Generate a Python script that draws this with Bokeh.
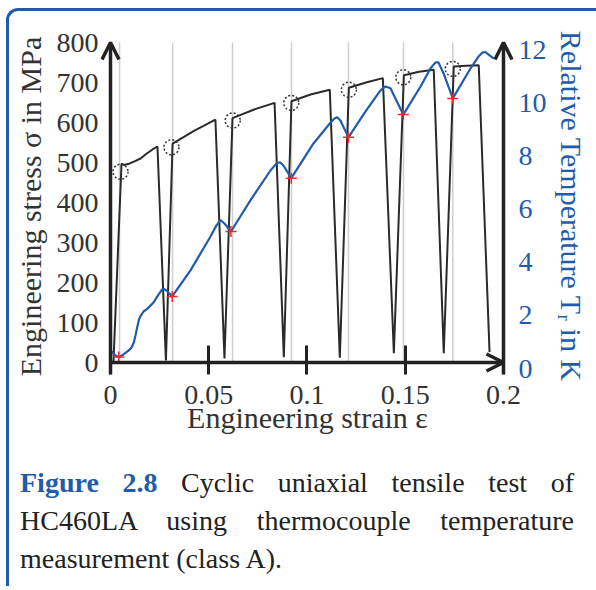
from bokeh.plotting import figure
from bokeh.models import (Range1d, LinearAxis, FixedTicker, CustomJSTickFormatter,
                          Arrow, OpenHead, Div)
from bokeh.layouts import column, row
from bokeh.embed import file_html
from bokeh.resources import INLINE

# Engineering stress curve (strain, MPa)
strain_s = [0.0015, 0.0056, 0.0068, 0.0095, 0.0122, 0.0153, 0.0183, 0.0212, 0.0239,
            0.0282, 0.0316, 0.0425, 0.0534,
            0.0580, 0.0621, 0.0728, 0.0835,
            0.0882, 0.0921, 0.1018, 0.1116,
            0.1167, 0.1213, 0.1300, 0.1386,
            0.1442, 0.1493, 0.1570, 0.1645,
            0.1696, 0.1747, 0.1810, 0.1874,
            0.1929]
stress = [0, 497, 494, 497, 503, 510, 522, 532, 540,
          5, 547, 579, 607,
          10, 611, 632, 649,
          13, 653, 670, 682,
          12, 687, 700, 711,
          23, 718, 727, 732,
          23, 740, 742, 743,
          26]

# Relative temperature curve (strain, K)
strain_t = [0.0005, 0.0025, 0.0042, 0.0066, 0.0093, 0.0107, 0.0119, 0.0127, 0.0136,
            0.0145, 0.0153, 0.0168, 0.0187, 0.0220, 0.0244, 0.0263, 0.0271, 0.0285,
            0.0314, 0.0407, 0.0509, 0.0539, 0.0560, 0.0580, 0.0613, 0.0712, 0.0814,
            0.0845, 0.0863, 0.0880, 0.0920, 0.1033, 0.1120, 0.1140, 0.1154, 0.1170,
            0.1211, 0.1298, 0.1374, 0.1399, 0.1425, 0.1455, 0.1490, 0.1578, 0.1628,
            0.1654, 0.1669, 0.1695, 0.1742, 0.1832, 0.1873, 0.1893, 0.1908, 0.1929,
            0.1951]
temp = [0.64, 0.49, 0.43, 0.53, 0.68, 0.79, 0.99, 1.25, 1.56,
        1.85, 1.98, 2.15, 2.25, 2.50, 2.79, 2.98, 3.01, 2.94,
        2.72, 3.70, 4.98, 5.40, 5.60, 5.47, 5.17, 6.34, 7.47,
        7.74, 7.78, 7.66, 7.18, 8.49, 9.28, 9.43, 9.48, 9.36,
        8.72, 9.70, 10.49, 10.64, 10.57, 10.11, 9.58, 10.64, 11.32,
        11.55, 11.55, 11.13, 10.19, 11.32, 11.77, 11.92, 11.94, 11.81,
        11.69]

# Reloading points
reload_strain = [0.0046, 0.0316, 0.0621, 0.0921, 0.1211, 0.1491, 0.1742]
circle_strain = [0.0051, 0.0310, 0.0622, 0.0920, 0.1213, 0.1490, 0.1742]
circle_stress = [477, 538, 605, 649, 682, 713, 734]
cross_strain = [0.0042, 0.0314, 0.0613, 0.0920, 0.1211, 0.1490, 0.1742]
cross_temp = [0.43, 2.72, 5.17, 7.18, 8.72, 9.58, 10.19]

x_ticks = [0, 0.05, 0.1, 0.15, 0.2]
y_ticks = [0, 100, 200, 300, 400, 500, 600, 700, 800]
t_ticks = [0, 2, 4, 6, 8, 10, 12]

BLUE = "#1f5cab"
DARK = "#222222"
FONT = "Liberation Serif"

p = figure(frame_width=414, frame_height=336,
           x_range=Range1d(-0.00509, 0.2056), y_range=Range1d(-30, 810),
           output_backend="svg", toolbar_location=None,
           min_border_left=91, min_border_right=74, min_border_top=18, min_border_bottom=66)
p.outline_line_color = None
p.xgrid.visible = False
p.ygrid.visible = False
p.background_fill_color = "white"
p.border_fill_color = "white"

p.extra_y_ranges = {"T": Range1d(-0.226, 12.45)}
raxis = LinearAxis(y_range_name="T")
p.add_layout(raxis, "right")

xa = p.xaxis[0]
xa.ticker = FixedTicker(ticks=x_ticks)
xa.formatter = CustomJSTickFormatter(code="return String(Number(tick.toFixed(4)))")
xa.axis_line_color = None
xa.major_tick_in = 29
xa.major_tick_out = 0
xa.major_tick_line_width = 3
xa.major_tick_line_color = DARK
xa.minor_tick_line_color = None
xa.major_label_text_font = FONT
xa.major_label_text_font_size = "28px"
xa.major_label_text_color = "#333333"
xa.major_label_standoff = 11
xa.axis_label = "Engineering strain ε"
xa.axis_label_text_font = FONT
xa.axis_label_text_font_size = "30px"
xa.axis_label_text_font_style = "normal"
xa.axis_label_text_color = "#333333"
xa.axis_label_standoff = -6

ya = p.left[0]
ya.ticker = FixedTicker(ticks=y_ticks)
ya.axis_line_color = None
ya.major_tick_line_color = None
ya.minor_tick_line_color = None
ya.major_label_text_font = FONT
ya.major_label_text_font_size = "28px"
ya.major_label_text_color = "#333333"
ya.major_label_standoff = -4
ya.axis_label = "Engineering stress σ in MPa"
ya.axis_label_text_font = FONT
ya.axis_label_text_font_size = "30px"
ya.axis_label_text_font_style = "normal"
ya.axis_label_text_color = "#333333"
ya.axis_label_standoff = 7

raxis.ticker = FixedTicker(ticks=t_ticks)
raxis.axis_line_color = None
raxis.major_tick_line_color = None
raxis.minor_tick_line_color = None
raxis.major_label_text_font = FONT
raxis.major_label_text_font_size = "28px"
raxis.major_label_text_color = BLUE
raxis.major_label_standoff = -2
raxis.axis_label = "Relative Temperature Tᵣ in K"
raxis.axis_label_text_font = FONT
raxis.axis_label_text_font_size = "30px"
raxis.axis_label_text_font_style = "normal"
raxis.axis_label_text_color = BLUE
raxis.axis_label_standoff = 5

# vertical reference lines
p.segment(x0=reload_strain, y0=[0] * len(reload_strain), x1=reload_strain,
          y1=[800] * len(reload_strain), line_color="#cfcfcf", line_width=1.5)

p.line(strain_s, stress, line_color="#2a2a2a", line_width=2)
p.scatter(circle_strain, circle_stress, marker="circle", size=15, fill_color=None,
          line_color="#333333", line_dash="2 2", line_width=1.5)
p.line(strain_t, temp, y_range_name="T", line_color=BLUE, line_width=2.2)
p.scatter(cross_strain, cross_temp, y_range_name="T", marker="cross", size=11,
          line_color="#ff2222", line_width=1.5)

for (xs, ys, xe, ye) in [(0, -30, 0, 800), (0.2, -30, 0.2, 800), (0, 0, 0.2, 0)]:
    p.add_layout(Arrow(x_start=xs, y_start=ys, x_end=xe, y_end=ye,
                       line_width=3.5, line_color=DARK,
                       end=OpenHead(size=17, line_width=3.5, line_color=DARK)))

caption_html = (
    "<div style=\"font-family:'Liberation Serif'; font-size:28px; line-height:38px; "
    "color:#222; padding-left:11px; padding-top:24px; width:565px;\">"
    "<div style='text-align:justify; text-align-last:justify;'>"
    "<b style='color:#1f5cab'>Figure 2.8</b> Cyclic uniaxial tensile test of</div>"
    "<div style='text-align:justify; text-align-last:justify;'>"
    "HC460LA using thermocouple temperature</div>"
    "<div>measurement (class A).</div></div>"
)
cap = Div(text=caption_html, width=579, height=134, margin=0)

top_bar = Div(text=("<div style='width:590px;height:12px;box-sizing:border-box;"
                    "border-top:3px solid #1f5cab;border-left:3px solid #1f5cab;"
                    "border-top-left-radius:12px'></div>"),
              width=590, height=12, margin=(8, 0, 0, 6))
left_bar = Div(text="<div style='width:3px;height:566px;background:#1f5cab'></div>",
               width=3, height=566, margin=(0, 0, 0, 6))
layout = column(top_bar, row(left_bar, column(p, cap)))

open("out.html", "w").write(file_html(layout, INLINE))
